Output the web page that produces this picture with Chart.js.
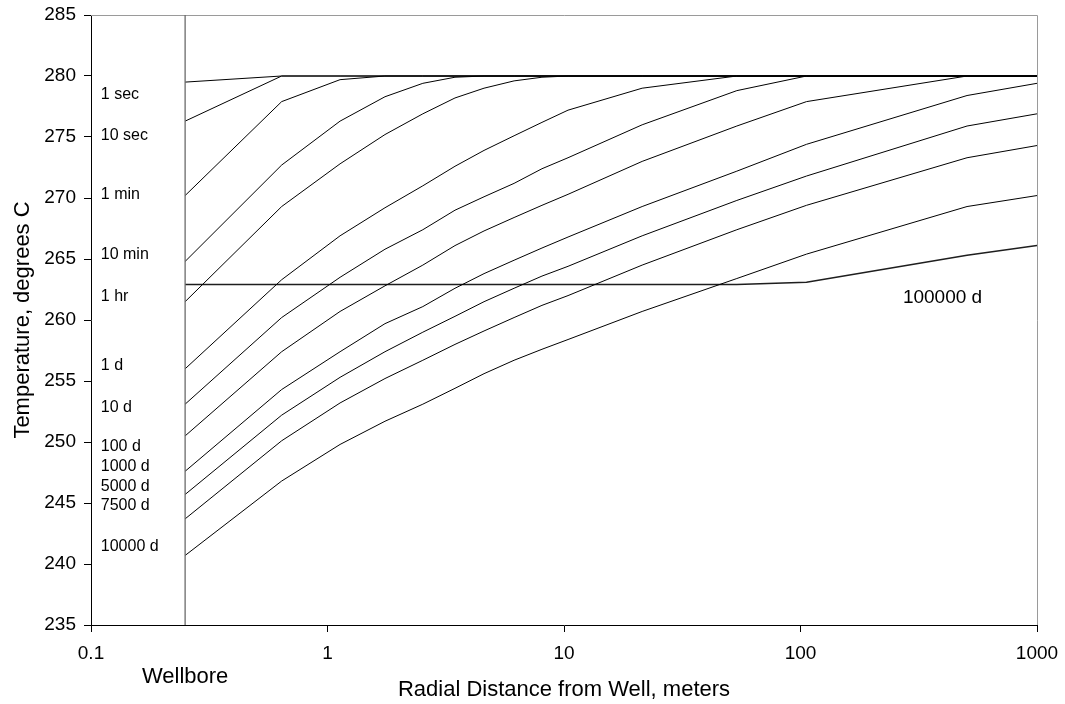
<!DOCTYPE html>
<html>
<head>
<meta charset="utf-8">
<script src="https://cdn.jsdelivr.net/npm/chart.js@4.4.1/dist/chart.umd.min.js"></script>
<style>
html,body{margin:0;padding:0;background:#fff;}
#wrap{width:1065px;height:704px;}
</style>
</head>
<body>
<div id="wrap"><canvas id="c" width="1065" height="704"></canvas></div>
<script>
// ---- data ----
const radii = [0.25, 0.64, 1.13, 1.75, 2.53, 3.46, 4.59, 6.15, 8.07, 10.4, 21.4, 53.8, 106, 506, 1000];

const seriesNames = ['1 sec','10 sec','1 min','10 min','1 hr','1 d','10 d','100 d','1000 d','5000 d','7500 d','10000 d','100000 d'];

const t1sec    = [279.5, 280.0, 280.0, 280.0, 280.0, 280.0, 280.0, 280.0, 280.0, 280.0, 280.0, 280.0, 280.0, 280.0, 280.0];
const t10sec   = [276.3, 280.0, 280.0, 280.0, 280.0, 280.0, 280.0, 280.0, 280.0, 280.0, 280.0, 280.0, 280.0, 280.0, 280.0];
const t1min    = [270.2, 277.9, 279.7, 280.0, 280.0, 280.0, 280.0, 280.0, 280.0, 280.0, 280.0, 280.0, 280.0, 280.0, 280.0];
const t10min   = [264.8, 272.7, 276.3, 278.3, 279.4, 279.9, 280.0, 280.0, 280.0, 280.0, 280.0, 280.0, 280.0, 280.0, 280.0];
const t1hr     = [261.5, 269.3, 272.8, 275.2, 276.9, 278.2, 279.0, 279.6, 279.9, 280.0, 280.0, 280.0, 280.0, 280.0, 280.0];
const t1d      = [256.0, 263.3, 266.9, 269.2, 271.0, 272.6, 273.9, 275.1, 276.2, 277.2, 279.0, 280.0, 280.0, 280.0, 280.0];
const t10d     = [253.1, 260.2, 263.5, 265.8, 267.4, 269.0, 270.1, 271.2, 272.4, 273.3, 276.0, 278.8, 280.0, 280.0, 280.0];
const t100d    = [250.5, 257.4, 260.7, 262.8, 264.5, 266.1, 267.3, 268.4, 269.4, 270.3, 273.0, 275.9, 277.9, 280.0, 280.0];
const t1000d   = [247.6, 254.3, 257.4, 259.7, 261.1, 262.6, 263.8, 264.9, 265.9, 266.8, 269.3, 272.2, 274.4, 278.4, 279.4];
const t5000d   = [245.7, 252.2, 255.3, 257.4, 259.0, 260.3, 261.5, 262.6, 263.6, 264.4, 266.9, 269.8, 271.8, 275.9, 276.9];
const t7500d   = [243.7, 250.1, 253.2, 255.2, 256.7, 258.0, 259.1, 260.2, 261.2, 262.0, 264.5, 267.4, 269.4, 273.3, 274.3];
const t10000d  = [240.7, 246.8, 249.8, 251.7, 253.1, 254.4, 255.6, 256.7, 257.6, 258.4, 260.7, 263.4, 265.4, 269.3, 270.2];
const t100000d = [262.9, 262.9, 262.9, 262.9, 262.9, 262.9, 262.9, 262.9, 262.9, 262.9, 262.9, 262.9, 263.1, 265.3, 266.1];

const wellboreRadius = 0.25;
const yRange = [235, 285];
const xRange = [0.1, 1000];
const xTickValues = [0.1, 1, 10, 100, 1000];
const xTickLabels = ['0.1', '1', '10', '100', '1000'];

// label anchor points in data units (radius, temperature)
const labelRadius = [0.11, 0.11, 0.11, 0.11, 0.11, 0.11, 0.11, 0.11, 0.11, 0.11, 0.11, 0.11, 271];
const labelTemp   = [278.45, 275.15, 270.25, 265.35, 261.9, 256.25, 252.85, 249.6, 247.95, 246.35, 244.75, 241.4, 261.8];

// ---- build chart ----
const FONT = "'Liberation Sans', Arial, Helvetica, sans-serif";
const allSeries = [t1sec, t10sec, t1min, t10min, t1hr, t1d, t10d, t100d, t1000d, t5000d, t7500d, t10000d, t100000d];

const datasets = [];
datasets.push({
  label: 'Wellbore',
  data: [{x: wellboreRadius, y: yRange[0]}, {x: wellboreRadius, y: yRange[1]}],
  borderColor: '#6a6a6a', borderWidth: 1.3, pointRadius: 0, tension: 0
});
allSeries.forEach((arr, i) => {
  const isLast = i === allSeries.length - 1;
  datasets.push({
    label: seriesNames[i],
    data: arr.map((v, k) => ({x: radii[k], y: v})),
    borderColor: isLast ? '#1e1e1e' : '#000',
    borderWidth: isLast ? 1.5 : 1,
    pointRadius: 0, tension: 0
  });
});

const framePlugin = {
  id: 'frame',
  beforeDatasetsDraw(chart) {
    const {ctx, chartArea: a} = chart;
    ctx.save();
    ctx.strokeStyle = '#9a9a9a';
    ctx.lineWidth = 1;
    ctx.beginPath();
    ctx.moveTo(a.left, a.top + 0.5);
    ctx.lineTo(a.right + 0.5, a.top + 0.5);
    ctx.lineTo(a.right + 0.5, a.bottom);
    ctx.stroke();
    ctx.restore();
  }
};

const labelPlugin = {
  id: 'seriesLabels',
  afterDatasetsDraw(chart) {
    const {ctx, scales: {x, y}, chartArea: a} = chart;
    ctx.save();
    ctx.fillStyle = '#000';
    ctx.textAlign = 'left';
    ctx.textBaseline = 'middle';
    seriesNames.forEach((name, i) => {
      const isLast = i === seriesNames.length - 1;
      ctx.font = (isLast ? '19px ' : '16px ') + FONT;
      ctx.fillText(name, x.getPixelForValue(labelRadius[i]), y.getPixelForValue(labelTemp[i]));
    });
    ctx.font = '22px ' + FONT;
    ctx.textAlign = 'center';
    ctx.fillText('Wellbore', x.getPixelForValue(wellboreRadius), a.bottom + 52);
    ctx.restore();
  }
};

new Chart(document.getElementById('c'), {
  type: 'line',
  data: {datasets},
  plugins: [framePlugin, labelPlugin],
  options: {
    responsive: false,
    animation: false,
    parsing: true,
    layout: {padding: {top: 15, right: 28, left: 0, bottom: 0}},
    plugins: {legend: {display: false}, tooltip: {enabled: false}},
    elements: {line: {borderCapStyle: 'butt'}},
    scales: {
      x: {
        type: 'logarithmic',
        min: xRange[0], max: xRange[1],
        afterBuildTicks: (axis) => { axis.ticks = xTickValues.map(v => ({value: v})); },
        afterFit: (s) => { s.height = 79; s.paddingLeft = 0; s.paddingRight = 0; },
        ticks: {
          autoSkip: false, maxRotation: 0, padding: 10,
          color: '#000', font: {family: FONT, size: 19},
          callback: (v) => { const k = xTickValues.indexOf(v); return k >= 0 ? xTickLabels[k] : ''; }
        },
        grid: {drawOnChartArea: false, drawTicks: true, tickLength: 7, color: '#000'},
        border: {display: true, color: '#000', width: 1},
        title: {display: true, text: 'Radial Distance from Well, meters', color: '#000',
                font: {family: FONT, size: 22}, padding: {top: 0, bottom: 1}}
      },
      y: {
        type: 'linear',
        min: yRange[0], max: yRange[1],
        afterFit: (s) => { s.width = 91; s.paddingTop = 0; s.paddingBottom = 0; },
        ticks: {stepSize: 5, padding: 8, color: '#000', font: {family: FONT, size: 19}},
        grid: {drawOnChartArea: false, drawTicks: true, tickLength: 7, color: '#000'},
        border: {display: true, color: '#000', width: 1},
        title: {display: true, text: 'Temperature, degrees C', color: '#000',
                font: {family: FONT, size: 22}, padding: {top: 10, bottom: 0}}
      }
    }
  }
});
</script>
</body>
</html>
